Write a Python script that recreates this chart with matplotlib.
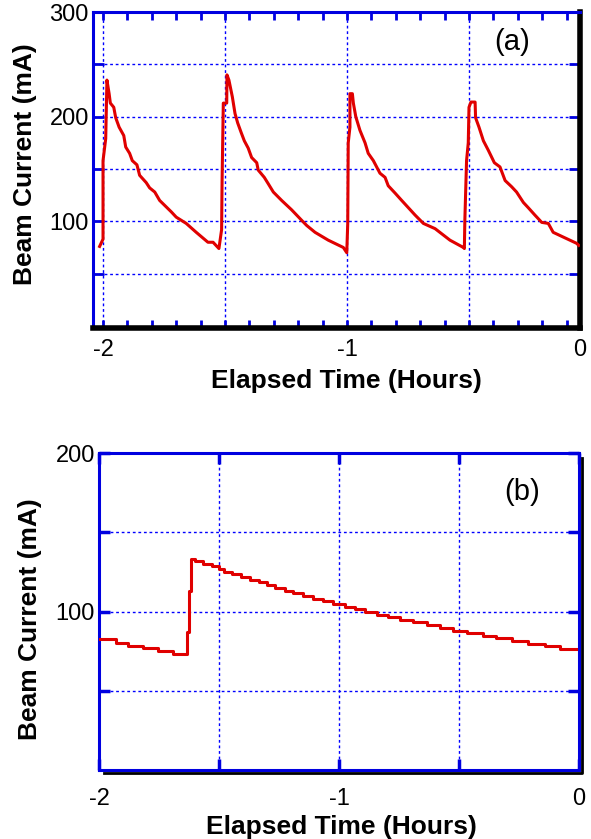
import matplotlib
matplotlib.use("Agg")
import matplotlib.pyplot as plt
from matplotlib import transforms
from matplotlib.ticker import MultipleLocator

plt.rcParams['font.family'] = ['Liberation Sans', 'DejaVu Sans']

# panel (a): four fill cycles over the last two hours
a_time = [-2.014, -2.000, -2.000, -1.989, -1.984, -1.975, -1.970, -1.956, -1.948, -1.934,
          -1.915, -1.907, -1.891, -1.880, -1.861, -1.850, -1.823, -1.809, -1.788, -1.768,
          -1.720, -1.700, -1.659, -1.618, -1.570, -1.549, -1.525,
          -1.514, -1.512, -1.507, -1.493, -1.492, -1.484, -1.470, -1.459, -1.448, -1.434,
          -1.421, -1.405, -1.391, -1.370, -1.364, -1.339, -1.323, -1.302, -1.268, -1.227,
          -1.186, -1.165, -1.131, -1.077, -1.015, -1.001,
          -0.997, -0.995, -0.988, -0.988, -0.978, -0.974, -0.964, -0.947, -0.926, -0.913,
          -0.892, -0.865, -0.844, -0.831, -0.803, -0.776, -0.721, -0.687, -0.639, -0.578,
          -0.523, -0.519,
          -0.517, -0.510, -0.503, -0.500, -0.492, -0.475, -0.473, -0.459, -0.441, -0.421,
          -0.396, -0.373, -0.352, -0.325, -0.305, -0.277, -0.257, -0.230, -0.202, -0.175,
          -0.155, -0.114, -0.059, -0.050]
a_current = [76, 83, 158, 179, 235, 222, 213, 209, 199, 190,
             182, 171, 165, 158, 154, 144, 137, 132, 128, 120,
             109, 104, 98, 89.5, 80, 80, 74,
             92, 139, 213, 213, 240, 235, 219, 203, 194, 185,
             177, 170, 161, 156, 149, 142, 136, 128, 120, 111,
             101, 96, 89.5, 82, 75, 70,
             98, 175, 190, 222, 222, 213, 200, 187, 175, 165,
             158, 146, 142, 134, 127, 120, 106, 98, 93, 82,
             75, 74,
             101, 158, 175, 209, 214, 214, 199, 190, 177, 168,
             156, 152, 139, 133, 128, 118, 113, 106, 99, 98,
             89.5, 85, 79, 77]

# panel (b): single fill, logged in steps
b_time = [-2.000, -1.930, -1.878, -1.815, -1.753, -1.690, -1.635, -1.625, -1.615, -1.600,
          -1.565, -1.530, -1.500, -1.478, -1.445, -1.410, -1.371, -1.333, -1.301, -1.267,
          -1.225, -1.190, -1.149, -1.107, -1.065, -1.024, -0.975, -0.933, -0.892, -0.843,
          -0.795, -0.746, -0.690, -0.635, -0.579, -0.524, -0.468, -0.399, -0.346, -0.280,
          -0.211, -0.142, -0.079, -0.010]
b_current = [82.4, 79.9, 78.2, 76.7, 75.0, 72.9, 87.0, 113.0, 133.1, 131.7,
             130.0, 128.5, 126.8, 125.2, 123.5, 121.8, 120.1, 118.4, 116.6, 114.9,
             113.2, 111.5, 109.9, 108.2, 106.5, 104.8, 103.1, 101.3, 99.8, 98.1,
             96.4, 94.8, 93.1, 91.4, 89.7, 88.0, 86.6, 84.7, 83.0, 81.3,
             79.7, 78.0, 76.3, 76.3]

a_yticks = [50, 100, 150, 200, 250, 300]
a_ylabels = ['', '100', '', '200', '', '300']
b_yticks = [50, 100, 150, 200]
b_ylabels = ['', '100', '', '200']

red = '#e00000'
blue = '#0000e0'
grid_kw = dict(color='#0000ff', linestyle=(0, (2, 2)), linewidth=1.0)

fig = plt.figure(figsize=(5.91, 8.39), dpi=100)

# ---- (a)
ax = fig.add_axes([0.1574, 0.609, 0.824, 0.3766])
ax.plot(a_time, a_current, color=red, lw=2.2, zorder=3)
a_xmax = -0.045
ax.set_xlim(-2.041, a_xmax)
ax.set_ylim(-2, 300)
ax.set_xticks([-2, -1.5, -1, -0.5, a_xmax])
ax.set_xticklabels(['-2', '', '-1', '', '0'])
ax.xaxis.set_minor_locator(MultipleLocator(0.1))
ax.set_yticks(a_yticks)
ax.set_yticklabels(a_ylabels)
ax.grid(True, which='major', **grid_kw)
ax.tick_params(which='both', direction='in', top=True, right=True, color=blue,
               width=2, length=6, labelsize=17, pad=8)
ax.tick_params(axis='y', length=8, pad=3)
for s in ['left', 'top']:
    ax.spines[s].set_color(blue)
    ax.spines[s].set_linewidth(2.2)
for s in ['right', 'bottom']:
    ax.spines[s].set_color('black')
    ax.spines[s].set_linewidth(4)
ax.set_xlabel('Elapsed Time (Hours)', fontsize=19, fontweight='bold')
ax.set_ylabel('Beam Current (mA)', fontsize=19, fontweight='bold')
ax.xaxis.set_label_coords(0.52, -0.13)
ax.yaxis.set_label_coords(-0.115, 0.52)
ax.text(0.86, 0.905, '(a)', transform=ax.transAxes, fontsize=21,
        ha='center', va='center')

# ---- (b)
bx = fig.add_axes([0.1675, 0.0822, 0.812, 0.3778])
bx.plot(b_time, b_current, color=red, lw=2.2, drawstyle='steps-post', zorder=3)
bx.set_xlim(-2, 0)
bx.set_ylim(0, 200)
bx.set_xticks([-2, -1.5, -1, -0.5, 0])
bx.set_xticklabels(['-2', '', '-1', '', '0'])
bx.set_yticks(b_yticks)
bx.set_yticklabels(b_ylabels)
bx.grid(True, which='major', **grid_kw)
bx.tick_params(direction='in', top=True, right=True, color=blue,
               width=2.5, length=8, labelsize=17, pad=13)
bx.tick_params(axis='y', pad=3)
for s in bx.spines.values():
    s.set_color(blue)
    s.set_linewidth(2.2)
# black shadow under the bottom and right frame
shift = transforms.ScaledTranslation(2.2 / 72, -2.2 / 72, fig.dpi_scale_trans)
bx.plot([0.005, 1, 1], [0, 0, 0.995], color='black', lw=2,
        transform=bx.transAxes + shift, clip_on=False, zorder=5)
bx.set_xlabel('Elapsed Time (Hours)', fontsize=19, fontweight='bold')
bx.set_ylabel('Beam Current (mA)', fontsize=19, fontweight='bold')
bx.xaxis.set_label_coords(0.506, -0.142)
bx.yaxis.set_label_coords(-0.119, 0.476)
bx.text(0.881, 0.877, '(b)', transform=bx.transAxes, fontsize=21,
        ha='center', va='center')

fig.savefig('out.png', dpi=100)
